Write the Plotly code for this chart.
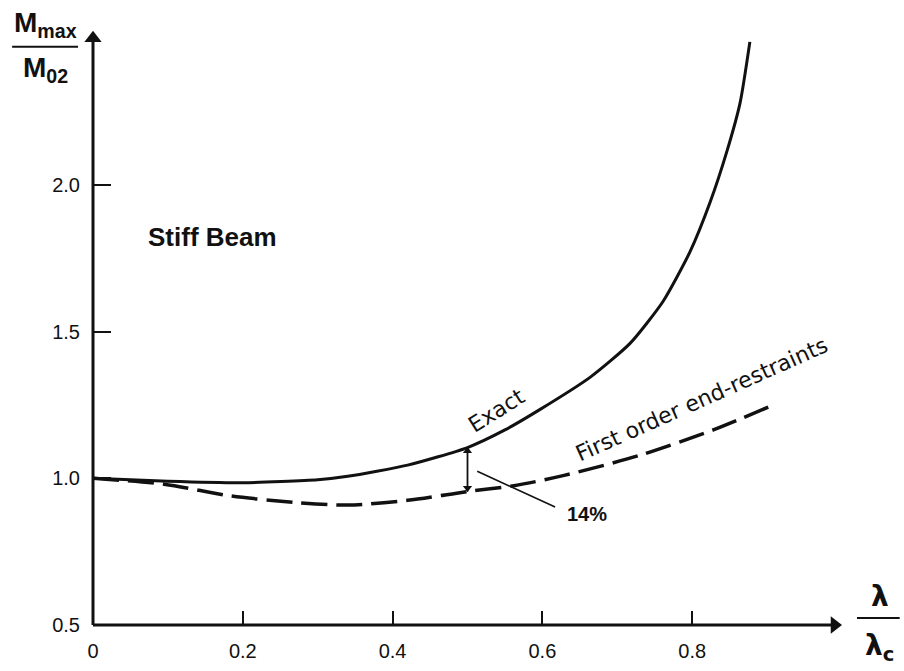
import plotly.graph_objects as go

# Exact solution: M_max / M_02 versus slenderness ratio lambda / lambda_c
x_exact = [0.0, 0.10, 0.20, 0.30, 0.34, 0.42, 0.50, 0.55, 0.597, 0.664, 0.717, 0.761, 0.797, 0.824, 0.846, 0.864, 0.877]
y_exact = [1.0, 0.99, 0.985, 0.995, 1.007, 1.045, 1.105, 1.165, 1.235, 1.345, 1.46, 1.603, 1.772, 1.942, 2.112, 2.281, 2.488]

# Approximation using first order end-restraints
x_first = [0.0, 0.095, 0.184, 0.274, 0.34, 0.42, 0.50, 0.562, 0.629, 0.732, 0.829, 0.908]
y_first = [1.0, 0.98, 0.94, 0.917, 0.909, 0.925, 0.955, 0.975, 1.01, 1.08, 1.166, 1.25]

x_ticks = [0, 0.2, 0.4, 0.6, 0.8]
x_tick_text = ["0", "0.2", "0.4", "0.6", "0.8"]
y_ticks = [0.5, 1.0, 1.5, 2.0]
y_tick_text = ["0.5", "1.0", "1.5", "2.0"]

X_RANGE = [0, 1.0]
Y_RANGE = [0.5, 2.6]
X_ARROW_END = 0.99
Y_ARROW_END = 2.50

# Location of the highlighted gap between the two curves
gap_x = 0.5
gap_top = y_exact[x_exact.index(gap_x)]
gap_bottom = y_first[x_first.index(gap_x)]

BLACK = "#111111"
FONT = "Liberation Sans"


def ypaper(v):
    return (v - Y_RANGE[0]) / (Y_RANGE[1] - Y_RANGE[0])


fig = go.Figure()

fig.add_trace(go.Scatter(
    x=x_exact, y=y_exact, mode="lines",
    line=dict(color=BLACK, width=3, shape="spline", smoothing=0.6),
    showlegend=False, hoverinfo="skip",
))
fig.add_trace(go.Scatter(
    x=x_first, y=y_first, mode="lines",
    line=dict(color=BLACK, width=3.5, shape="spline", smoothing=0.8, dash="26px,9px"),
    showlegend=False, hoverinfo="skip",
))

# arrowheads at the ends of both axes and of the gap marker
fig.add_trace(go.Scatter(
    x=[X_ARROW_END, 0], y=[Y_RANGE[0], Y_ARROW_END], mode="markers",
    marker=dict(symbol=["triangle-right", "triangle-up"], size=15, color=BLACK),
    cliponaxis=False, showlegend=False, hoverinfo="skip",
))
fig.add_trace(go.Scatter(
    x=[gap_x, gap_x], y=[gap_top - 0.012, gap_bottom + 0.012], mode="markers",
    marker=dict(symbol=["triangle-up", "triangle-down"], size=8, color=BLACK),
    cliponaxis=False, showlegend=False, hoverinfo="skip",
))

shapes = [
    # axis lines
    dict(type="line", xref="paper", yref="paper", x0=0, x1=X_ARROW_END, y0=0, y1=0,
         line=dict(color=BLACK, width=3)),
    dict(type="line", xref="paper", yref="paper", x0=0, x1=0, y0=0, y1=ypaper(Y_ARROW_END),
         line=dict(color=BLACK, width=3)),
    # gap marker and leader line
    dict(type="line", xref="x", yref="y", x0=gap_x, x1=gap_x, y0=gap_bottom, y1=gap_top,
         line=dict(color=BLACK, width=1.8)),
    dict(type="line", xref="x", yref="y", x0=0.513, x1=0.617, y0=1.024, y1=0.902,
         line=dict(color=BLACK, width=1.6)),
    # fraction bars of the axis quantities
    dict(type="line", xref="paper", yref="paper", x0=-0.108, x1=-0.020, y0=0.9386, y1=0.9386,
         line=dict(color=BLACK, width=2)),
    dict(type="line", xref="paper", yref="paper", x0=1.020, x1=1.077, y0=0.0113, y1=0.0113,
         line=dict(color=BLACK, width=2)),
]

annotations = [
    dict(x=0.66, y=0.88, xref="x", yref="y", text="<b>14%</b>", showarrow=False,
         font=dict(family=FONT, size=20, color=BLACK)),
    dict(x=0.16, y=1.823, xref="x", yref="y", text="<b>Stiff Beam</b>", showarrow=False,
         font=dict(family=FONT, size=26, color=BLACK)),
    dict(x=0.539, y=1.23, xref="x", yref="y", text="Exact", showarrow=False, textangle=-32,
         font=dict(family="DejaVu Sans", size=22, color=BLACK)),
    dict(x=0.812, y=1.27, xref="x", yref="y", text="First order end-restraints", showarrow=False,
         textangle=-24, font=dict(family="DejaVu Sans", size=22, color=BLACK)),
    # y-axis quantity as a fraction
    dict(x=-0.064, y=0.975, xref="paper", yref="paper", xanchor="center", yanchor="middle",
         text="<b>M<sub>max</sub></b>", showarrow=False,
         font=dict(family=FONT, size=28, color=BLACK)),
    dict(x=-0.064, y=0.902, xref="paper", yref="paper", xanchor="center", yanchor="middle",
         text="<b>M<sub>02</sub></b>", showarrow=False,
         font=dict(family=FONT, size=28, color=BLACK)),
    # x-axis quantity as a fraction
    dict(x=1.0507, y=0.046, xref="paper", yref="paper", xanchor="center", yanchor="middle",
         text="<b>λ</b>", showarrow=False,
         font=dict(family="DejaVu Sans", size=28, color=BLACK)),
    dict(x=1.0507, y=-0.036, xref="paper", yref="paper", xanchor="center", yanchor="middle",
         text="<b>λ<sub>c</sub></b>", showarrow=False,
         font=dict(family="DejaVu Sans", size=28, color=BLACK)),
]

fig.update_layout(
    width=904, height=671,
    margin=dict(l=93, r=62, t=9, b=43),
    paper_bgcolor="white", plot_bgcolor="white",
    annotations=annotations, shapes=shapes,
    xaxis=dict(range=X_RANGE, showgrid=False, zeroline=False, showline=False,
               tickvals=x_ticks, ticktext=x_tick_text, ticks="inside", ticklen=14,
               tickwidth=2, tickcolor=BLACK, ticklabelstandoff=12,
               tickfont=dict(family=FONT, size=20, color=BLACK)),
    yaxis=dict(range=Y_RANGE, showgrid=False, zeroline=False, showline=False,
               tickvals=y_ticks, ticktext=y_tick_text, ticks="inside", ticklen=18,
               tickwidth=2, tickcolor=BLACK, ticklabelstandoff=12,
               tickfont=dict(family=FONT, size=20, color=BLACK)),
)

fig.write_html("out.html")
